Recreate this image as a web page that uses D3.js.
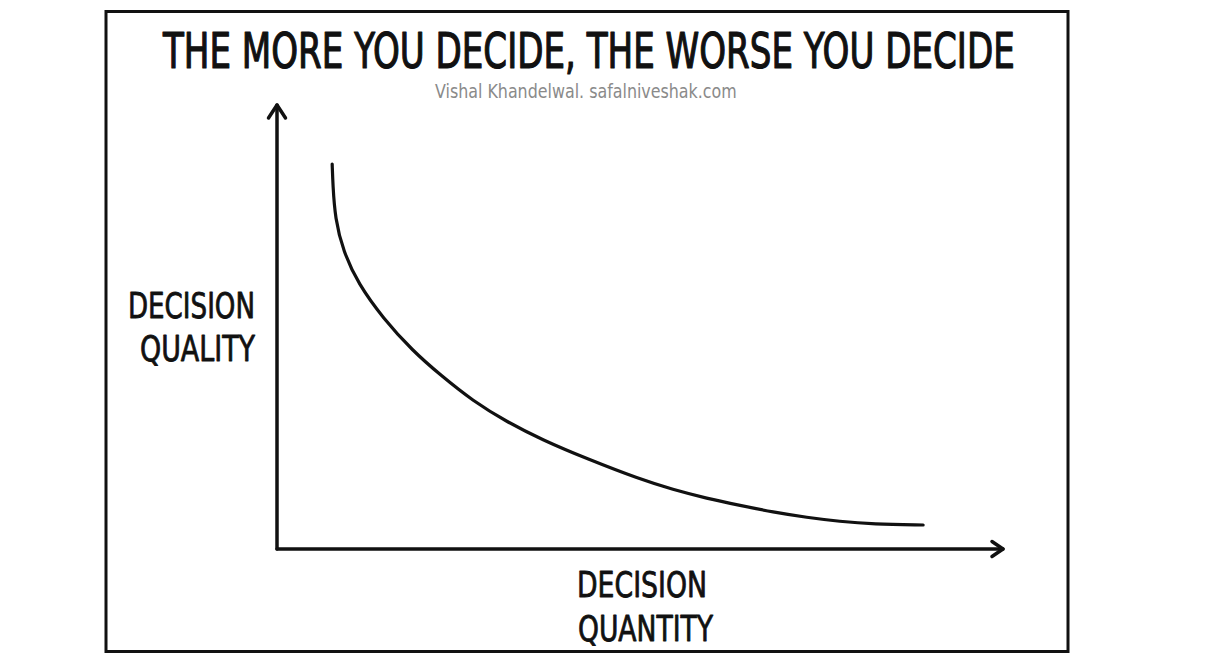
<!DOCTYPE html>
<html>
<head>
<meta charset="utf-8">
<script src="https://cdn.jsdelivr.net/npm/d3@7"></script>
<style>
  html, body { margin: 0; padding: 0; background: #fff; }
  svg { display: block; }
  text { font-family: "Humor Sans", "DejaVu Sans Condensed", "Liberation Sans Narrow", "DejaVu Sans", sans-serif; fill: #111; }
</style>
</head>
<body>
<script>
// ---- data ----
const titleText = "THE MORE YOU DECIDE, THE WORSE YOU DECIDE";
const subtitleText = "Vishal Khandelwal. safalniveshak.com";
const yLabelLines = ["DECISION", "QUALITY"];
const xLabelLines = ["DECISION", "QUANTITY"];
const quantity = [7.6, 7.7, 8.0, 9.1, 11.2, 14.6, 18.7, 22.5, 27.0, 31.7, 36.5, 42.7, 50.0, 54.5, 59.2, 63.8, 68.3, 73.0, 77.5, 82.1, 89.0, 89.0];
const quality  = [86.7, 82.0, 74.5, 67.1, 59.7, 52.0, 44.6, 39.2, 33.3, 28.6, 24.6, 20.3, 15.7, 13.4, 11.4, 9.8, 8.3, 7.1, 6.2, 5.6, 5.4, 5.4];

const W = 1228, H = 659;
const svg = d3.select("body").append("svg").attr("width", W).attr("height", H);

// frame
svg.append("rect").attr("x", 106).attr("y", 11.5).attr("width", 962).attr("height", 640)
  .attr("fill", "none").attr("stroke", "#111").attr("stroke-width", 3);

// scales
const x = d3.scaleLinear().domain([0, 100]).range([277, 1003]);
const y = d3.scaleLinear().domain([0, 100]).range([549, 105]);

const ax = svg.append("g").attr("stroke", "#111").attr("stroke-width", 3.5)
  .attr("fill", "none").attr("stroke-linecap", "round").attr("stroke-linejoin", "round");
// y axis
ax.append("path").attr("d", d3.line()([[x(0), y(0)], [x(0), y(100)]]));
ax.append("path").attr("d", d3.line()([[x(0) - 8.5, y(100) + 13], [x(0), y(100)], [x(0) + 8.5, y(100) + 13]]));
// x axis
ax.append("path").attr("d", d3.line()([[x(0), y(0)], [x(100), y(0)]]));
ax.append("path").attr("d", d3.line()([[x(100) - 11, y(0) - 7.5], [x(100), y(0)], [x(100) - 11, y(0) + 7.5]]));

// curve
const pts = quantity.map((q, i) => [q, quality[i]]);
svg.append("path")
  .attr("d", d3.line().x(d => x(d[0])).y(d => y(d[1])).curve(d3.curveBasis)(pts))
  .attr("fill", "none").attr("stroke", "#111").attr("stroke-width", 3.2).attr("stroke-linecap", "round");

// text helper: fit natural text into target width by horizontal scaling
function fitText(str, left, base, size, width, opts) {
  const t = svg.append("text").attr("font-size", size).text(str);
  if (opts && opts.fill) t.style("fill", opts.fill);
  if (opts && opts.stroke) t.style("stroke", opts.stroke).style("stroke-width", opts.sw).style("stroke-linejoin", "round");
  const w = t.node().getComputedTextLength();
  t.attr("transform", `translate(${left},${base}) scale(${width / w},1)`);
  return t;
}

// title
fitText(titleText, 163, 68, 49, 852, {stroke: "#111", sw: 1.2});
fitText(subtitleText, 435, 98, 19, 302, {fill: "#8a8a8a"});

// y label
fitText(yLabelLines[0], 128, 318, 36, 127, {stroke: "#111", sw: 0.8});
fitText(yLabelLines[1], 140, 361, 36, 115, {stroke: "#111", sw: 0.8});
// x label
fitText(xLabelLines[0], 577, 597, 36, 130, {stroke: "#111", sw: 0.8});
fitText(xLabelLines[1], 578, 641, 36, 135, {stroke: "#111", sw: 0.8});
</script>
</body>
</html>
